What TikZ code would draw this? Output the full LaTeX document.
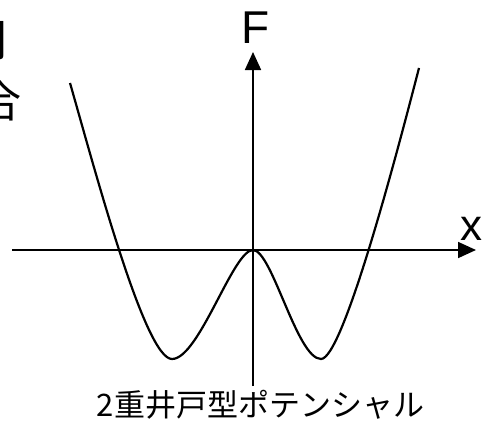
\documentclass[tikz,border=0pt]{standalone}
\usepackage{fontspec}
\setmainfont{Liberation Sans}
\newfontfamily\cjk{Noto Sans CJK JP}
\usetikzlibrary{arrows.meta}
\begin{document}
\begin{tikzpicture}[x=1pt,y=-1pt,
  axis/.style={line width=1.8pt,-{Triangle[length=18pt,width=16pt]}},
  curve/.style={line width=2.2pt},
  lbl/.style={inner sep=0pt}]
\useasboundingbox (0,0) rectangle (482,423);
\coordinate (xs) at (12,250);
\coordinate (xe) at (476,250);
\coordinate (ys) at (253,386);
\coordinate (ye) at (253,52);
\draw[axis] (xs) -- (xe);
\draw[axis] (ys) -- (ye);
\draw[curve] (70,83) .. controls (95,170) and (145,359) .. (172,359)
  .. controls (199,359) and (233,250) .. (253,250)
  .. controls (272,250) and (297,359) .. (321,359)
  .. controls (343,359) and (397,153) .. (419,68);
\node[lbl, anchor=base] (F) at (255.5,43) {\fontsize{46}{46}\selectfont F};
\node[lbl, anchor=base] (X) at (471,240) {\fontsize{44}{44}\selectfont x};
\node[lbl, anchor=base] (cap) at (260.5,416) {\cjk\fontsize{31}{31}\selectfont 2重井戸型ポテンシャル};
\node[lbl, anchor=base east] (t1) at (8,56) {\cjk\fontsize{44}{44}\selectfont 相の間};
\node[lbl, anchor=base east] (t2) at (22,117) {\cjk\fontsize{44}{44}\selectfont 場合};
\end{tikzpicture}
\end{document}
